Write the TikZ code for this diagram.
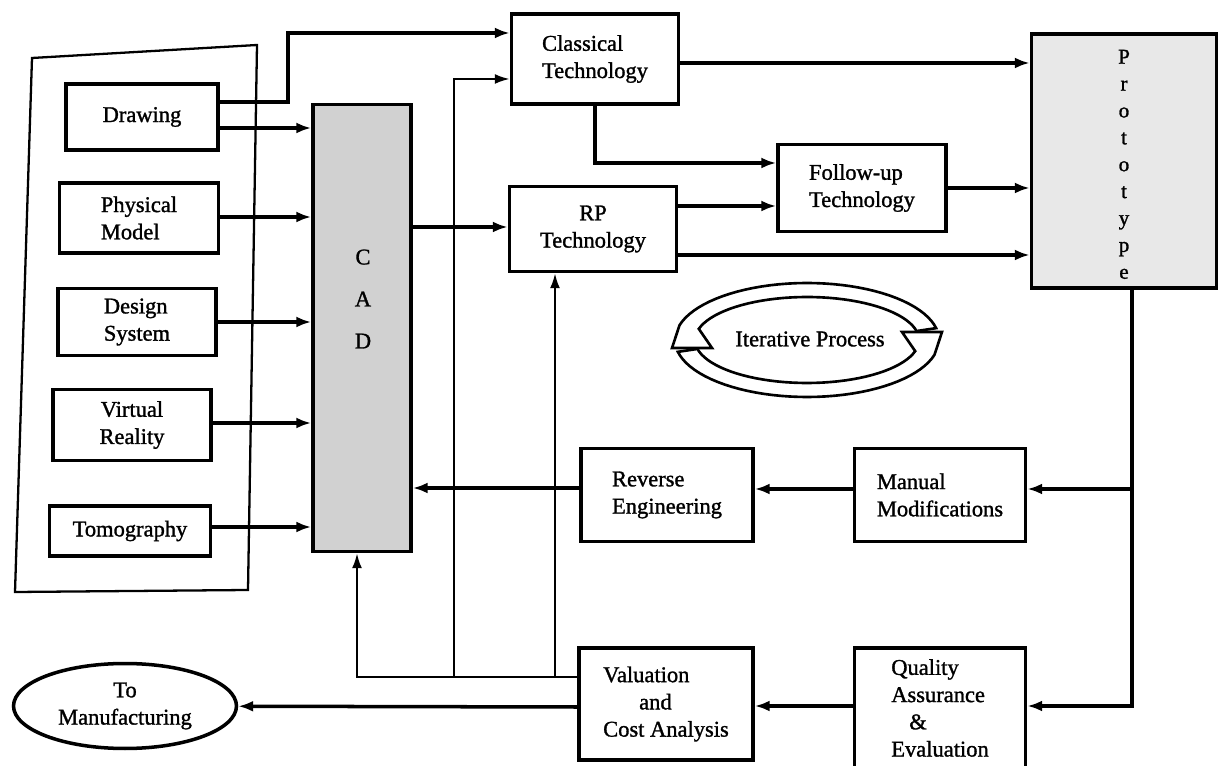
\documentclass[tikz,border=0pt]{standalone}
\usepackage{fontspec}
\setmainfont{Liberation Serif}[BoldFont=Liberation Serif, BoldFeatures={FakeBold=1.3}]
\usetikzlibrary{arrows.meta, shapes.geometric, positioning, calc}

\begin{document}
\begin{tikzpicture}[x=0.02cm, y=-0.02cm,
	box/.style = {draw, line width=2pt, fill=white, inner sep=0pt, align=left, font=\bfseries\fontsize{12.8}{15.5}\selectfont},
	flow/.style = {-{Latex[length=3mm, width=2.2mm]}, line width=2pt},
	feed/.style = {-{Latex[length=3mm, width=2mm]}, line width=1.3pt},
	ring/.style = {line width=1.5pt, fill=white, line join=miter}]
	\useasboundingbox (0,0) rectangle (1224,766);
	% input frame
	\draw[line width=1.3pt] (32,58) -- (257,45) -- (248,590) -- (15,592) -- cycle;
	\node[box, minimum width=3.04cm, minimum height=1.32cm] at (142,117) (drawing) {Drawing};
	\node[box, minimum width=3.18cm, minimum height=1.4cm] at (139,218) (physical) {Physical\\Model};
	\node[box, minimum width=3.16cm, minimum height=1.34cm] at (137,322) (design) {Design\\System};
	\node[box, align=center, minimum width=3.16cm, minimum height=1.42cm] at (132,425) (virtual) {Virtual\\Reality};
	\node[box, minimum width=3.22cm, minimum height=1.0cm] at (130,531) (tomo) {Tomography};
	\node[box, fill=black!18, minimum width=1.96cm, minimum height=8.94cm] at (362,328) (cad) {};
	\node[font=\bfseries\fontsize{12.8}{23.9}\selectfont, align=center] at (363,299) (cadlbl) {C\\A\\D};
	% technologies and prototype
	\node[box, minimum width=3.34cm, minimum height=1.8cm] at (595,59) (classical) {Classical\\Technology};
	\node[box, align=center, minimum width=3.34cm, minimum height=1.7cm] at (593,229) (rp) {RP\\Technology};
	\node[box, minimum width=3.36cm, minimum height=1.74cm] at (862,188) (follow) {Follow-up\\Technology};
	\node[box, align=center, fill=black!9, minimum width=3.7cm, minimum height=5.08cm, font=\bfseries\fontsize{12}{15.3}\selectfont] at (1124,161) (proto) {\\[-0.3em]P\\r\\o\\t\\o\\t\\y\\p\\e};
	% feedback boxes
	\node[box, minimum width=3.44cm, minimum height=1.86cm] at (667,495) (reverse) {Reverse\\Engineering};
	\node[box, minimum width=3.42cm, minimum height=1.86cm] at (940,495) (manual) {Manual\\Modifications};
	\node[box, minimum width=3.48cm, minimum height=2.24cm] at (666,704) (valuation) {Valuation\\\hspace{1.6em}and\\Cost Analysis};
	\node[box, minimum width=3.42cm, minimum height=2.4cm] at (940,708) (quality) {Quality\\Assurance\\\hspace{0.8em}\&\\Evaluation};
	\node[box, ellipse, align=center, minimum width=4.46cm, minimum height=1.7cm] at (125,706) (tomanu) {To\\Manufacturing};
	% iterative process
	\draw[ring] plot[domain=-12:-165, samples=40] ({807+132*cos(\x)}, {340+57*sin(\x)}) -- (672,348) -- (712,348) -- plot[domain=-165:-12, samples=40] ({807+112*cos(\x)}, {340+43*sin(\x)}) -- cycle;
	\draw[ring] plot[domain=168:15, samples=40] ({807+132*cos(\x)}, {340+57*sin(\x)}) -- (942,332) -- (902,332) -- plot[domain=15:168, samples=40] ({807+112*cos(\x)}, {340+43*sin(\x)}) -- cycle;
	\node[font=\bfseries\fontsize{12.8}{15.5}\selectfont] at (810,339) (iter) {Iterative Process};
	% forward flow
	\draw[flow] (drawing.east |- 0,102) -- ++(68,0) |- (classical.west |- 0,33);
	\draw[flow] (drawing.east |- 0,128) -- (cad.west |- 0,128);
	\draw[flow] (physical.east |- 0,217) -- (cad.west |- 0,217);
	\draw[flow] (design.east |- 0,322) -- (cad.west |- 0,322);
	\draw[flow] (virtual.east |- 0,423) -- (cad.west |- 0,423);
	\draw[flow] (tomo.east |- 0,527) -- (cad.west |- 0,527);
	\draw[flow] (cad.east |- 0,227) -- (rp.west |- 0,227);
	\draw[flow] (classical.east |- 0,63) -- (proto.west |- 0,63);
	\draw[flow] (classical.south) |- (follow.west |- 0,163);
	\draw[flow] (rp.east |- 0,206) -- (follow.west |- 0,206);
	\draw[flow] (rp.east |- 0,255) -- (proto.west |- 0,255);
	\draw[flow] (follow.east |- 0,188) -- (proto.west |- 0,188);
	% back flow
	\coordinate (split) at (1132,489);
	\draw[flow] (proto.south -| split) |- (quality.east |- 0,706);
	\draw[flow] (split) -- (manual.east |- split);
	\draw[flow] (manual.west |- split) -- (reverse.east |- split);
	\draw[flow] (reverse.west |- 0,488) -- (cad.east |- 0,488);
	\draw[flow] (quality.west |- 0,706) -- (valuation.east |- 0,706);
	\draw[flow] (valuation.west |- 0,707) -- (tomanu);
	\coordinate (fbA) at (454,677);
	\coordinate (fbB) at (555,677);
	\draw[feed] (valuation.west |- fbA) -| (cad.south -| 357,0);
	\draw[feed] (fbA) |- (classical.west |- 0,79);
	\draw[feed] (fbB) -- (rp.south -| fbB);
\end{tikzpicture}
\end{document}
